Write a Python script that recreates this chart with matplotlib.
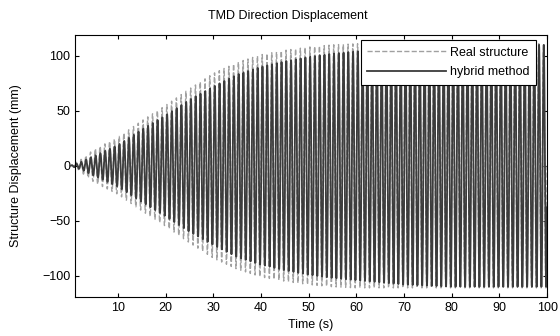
import numpy as np
import matplotlib.pyplot as plt

plt.rcParams['font.family'] = ['Liberation Sans', 'DejaVu Sans']

# envelope of the oscillation (mm)
t_knots = [0, 2, 5, 10, 15, 20, 25, 30, 35, 40, 45, 50, 55, 60, 65, 70, 80, 90, 100]
amp_real = [0, 5, 15, 26, 41, 55, 70, 84, 94, 101, 105, 108, 110, 111, 111, 111, 111, 111, 111]
amp_hybrid = [0, 3, 9, 19, 33, 46, 60, 72, 83, 90, 95, 99, 102, 104, 106, 108, 110, 110, 110]
freq_hz = 1.0          # about 10 cycles per 10 s
phase_shift = 0.35     # hybrid lags the real structure slightly

t = np.linspace(0, 100, 20001)
y_real = np.interp(t, t_knots, amp_real) * np.sin(2 * np.pi * freq_hz * t)
y_hybrid = np.interp(t, t_knots, amp_hybrid) * np.sin(2 * np.pi * freq_hz * t - phase_shift)

fs = 9
fig = plt.figure(figsize=(5.6, 3.36), dpi=100)
ax = fig.add_axes([0.134, 0.117, 0.843, 0.779])

ax.plot(t, y_real, '--', color='#a0a0a0', linewidth=1.0, label='Real structure', clip_on=False)
ax.plot(t, y_hybrid, '-', color='#3c3c3c', linewidth=1.3, label='hybrid method', clip_on=False)

ax.set_xlim(1, 100)
ax.set_ylim(-119, 119)
ax.set_xticks(range(10, 101, 10))
ax.set_yticks([-100, -50, 0, 50, 100])
ax.tick_params(direction='in', top=True, right=True, length=3, labelsize=fs)
for s in ax.spines.values():
    s.set_linewidth(0.8)

ax.set_xlabel('Time (s)', fontsize=fs)
ax.set_ylabel('Structure Displacement (mm)', fontsize=fs)
ax.xaxis.set_label_coords(0.5, -0.085)
ax.yaxis.set_label_coords(-0.113, 0.5)
fig.text(0.514, 0.952, 'TMD Direction Displacement', ha='center', va='center', fontsize=fs)

leg = ax.legend(loc='upper right', bbox_to_anchor=(0.977, 0.981), fontsize=fs,
                handlelength=6.3, fancybox=False, framealpha=1, edgecolor='black',
                borderaxespad=0, borderpad=0.55, labelspacing=0.6, handletextpad=0.3)
leg.get_frame().set_linewidth(0.8)

plt.savefig('out.png', dpi=100)
